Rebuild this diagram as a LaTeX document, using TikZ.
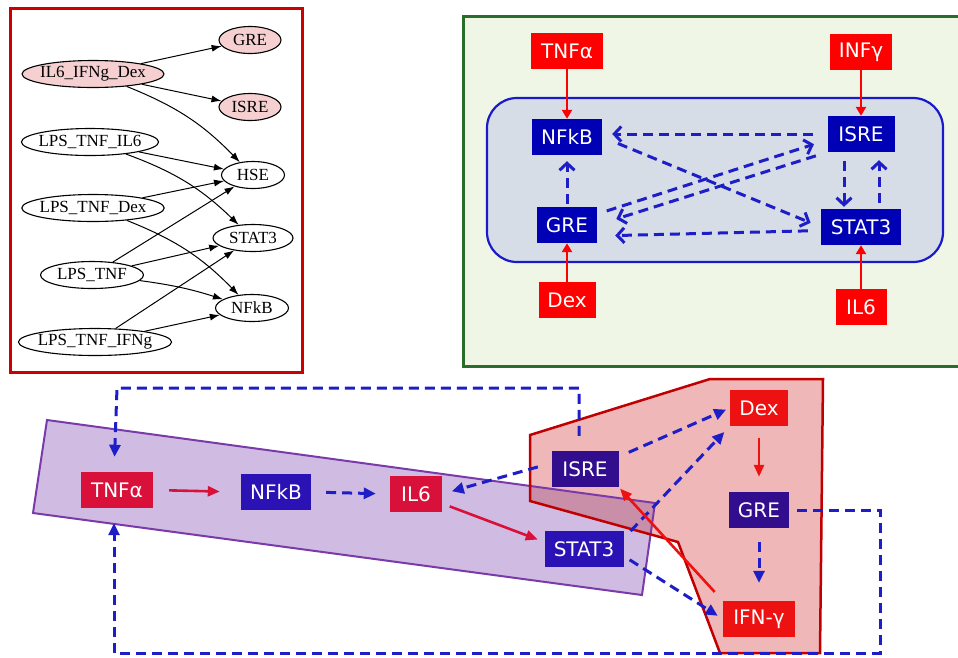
\documentclass[tikz,border=0pt]{standalone}
\usepackage{fontspec}
\usepackage{tikz}
\usetikzlibrary{positioning}
\usetikzlibrary{arrows.meta}
\usetikzlibrary{shapes.geometric}

\newfontfamily\gvfont{Liberation Serif}
\newfontfamily\boxfont{DejaVu Sans}

\definecolor{frameRed}{HTML}{CC0000}
\definecolor{gvPink}{HTML}{F6D0D0}
\definecolor{panelGreen}{HTML}{EFF6E5}
\definecolor{frameGreen}{HTML}{2B6E2B}
\definecolor{cellGray}{HTML}{D6DDE6}
\definecolor{cellBlue}{HTML}{1A1ACC}
\definecolor{boxBlue}{HTML}{0000B4}
\definecolor{dashBlue}{HTML}{1E1EC8}
\definecolor{bandPurple}{HTML}{D0BCE2}
\definecolor{bandLine}{HTML}{7A3AAA}
\definecolor{zoneRed}{HTML}{EFB7B7}
\definecolor{zoneLine}{HTML}{C00000}
\definecolor{overlapCol}{HTML}{C98EA8}
\definecolor{crimson}{HTML}{D8103A}
\definecolor{violetBox}{HTML}{2A12B4}
\definecolor{indigoBox}{HTML}{320E8E}
\definecolor{brightRed}{HTML}{EE1111}

\begin{document}
\begin{tikzpicture}[x=1pt, y=-1pt,
  gv/.style={ellipse, draw, line width=1.1pt, inner ysep=0pt, inner xsep=-3pt, minimum height=27pt,
    font=\gvfont\fontsize{17}{19}\selectfont},
  gvpk/.style={gv, fill=gvPink},
  gvedge/.style={-{Latex[length=10pt,width=7pt]}, line width=1pt},
  box/.style={rectangle, inner sep=0pt, minimum height=36pt, text=white,
    font=\boxfont\fontsize{20}{22}\selectfont},
  bbox/.style={box, fill=boxBlue},
  rbox/.style={box, fill=red},
  act/.style={-{Triangle[length=9pt,width=10pt]}, line width=2.5pt, draw=red},
  inh/.style={-{Straight Barb[length=7pt,width=15pt]}, line width=3pt, draw=dashBlue,
    dash pattern=on 10pt off 6pt},
  actb/.style={-{Triangle[length=12pt,width=10pt]}, line width=2.6pt, draw=crimson},
  inhb/.style={-{Triangle[length=12pt,width=11pt]}, line width=3pt, draw=dashBlue,
    dash pattern=on 10pt off 6pt},
  ]
\useasboundingbox (0,0) rectangle (958,657);

% ---- left: learned graph
\draw[line width=3pt, draw=frameRed] (10,8) rectangle (302,372);

\node[gvpk, minimum width=62pt]  (gGRE)  at (250,40)  {GRE};
\node[gvpk, minimum width=142pt] (gDex)  at (93,74)   {IL6\_IFNg\_Dex};
\node[gvpk, minimum width=62pt]  (gISRE) at (250,107) {ISRE};
\node[gv, minimum width=137pt]   (gIL6)  at (90,142)  {LPS\_TNF\_IL6};
\node[gv, minimum width=63pt]    (gHSE)  at (253,175) {HSE};
\node[gv, minimum width=140pt]   (gTD)   at (93,208)  {LPS\_TNF\_Dex};
\node[gv, minimum width=80pt]    (gSTAT) at (253,238) {STAT3};
\node[gv, minimum width=103pt]   (gLT)   at (92,275)  {LPS\_TNF};
\node[gv, minimum width=73pt]    (gNFkB) at (252,308) {NFkB};
\node[gv, minimum width=153pt]   (gTG)   at (95,342)  {LPS\_TNF\_IFNg};

\draw[gvedge] (gDex) -- (gGRE);
\draw[gvedge] (gDex) -- (gISRE);
\draw[gvedge] (gDex) to[bend left=12] (gHSE);
\draw[gvedge] (gIL6) -- (gHSE);
\draw[gvedge] (gIL6) to[bend left=12] (gSTAT);
\draw[gvedge] (gTD) -- (gHSE);
\draw[gvedge] (gTD) to[bend left=12] (gNFkB);
\draw[gvedge] (gLT) -- (gHSE);
\draw[gvedge] (gLT) -- (gSTAT);
\draw[gvedge] (gLT) to[bend left=5] (gNFkB);
\draw[gvedge] (gTG) -- (gSTAT);
\draw[gvedge] (gTG) -- (gNFkB);

% ---- right: prior network
\draw[line width=3pt, draw=frameGreen, fill=panelGreen] (463,16) rectangle (975,366);
\draw[line width=2.2pt, draw=cellBlue, fill=cellGray, rounded corners=30pt] (487,98) rectangle (943,262);

\node[bbox, minimum width=70pt] (nfkbA) at (567,137) {NFkB};
\node[bbox, minimum width=67pt] (isreA) at (861,134) {ISRE};
\node[bbox, minimum width=60pt] (greA)  at (567,225) {GRE};
\node[bbox, minimum width=80pt] (statA) at (861,227) {STAT3};
\node[rbox, minimum width=72pt] (tnfA)  at (567,51)  {TNFα};
\node[rbox, minimum width=62pt] (infA)  at (861,52)  {INFγ};
\node[rbox, minimum width=57pt] (dexA)  at (567,300) {Dex};
\node[rbox, minimum width=51pt] (il6A)  at (861,307) {IL6};

\draw[act] (tnfA) -- (nfkbA);
\draw[act] (infA) -- (isreA);
\draw[act] (dexA) -- (greA);
\draw[act] (il6A) -- (statA);

\draw[inh, shorten <=14pt, shorten >=10pt] (isreA.west) -- (isreA.west -| nfkbA.east);
\draw[inh, shorten <=3pt, shorten >=6pt] (greA) -- (nfkbA);
\draw[inh, shorten <=17pt, shorten >=11pt] (nfkbA.east) -- (statA.west);
\draw[inh, shorten <=10pt, shorten >=14pt] (greA.20) -- (isreA.190);
\draw[inh, shorten <=12pt, shorten >=20pt] (isreA.south west) -- (greA.east);
\draw[inh, shorten <=13pt, shorten >=18pt] (statA.185) -- (greA.-20);
\draw[inh, shorten <=9pt, shorten >=2pt] ([xshift=-17pt]isreA.south) -- ([xshift=-17pt]statA.north);
\draw[inh, shorten <=6pt, shorten >=8pt] ([xshift=18pt]statA.north) -- ([xshift=18pt]isreA.south);

% ---- bottom: modules
\fill[bandPurple] (47,420) -- (655,503) -- (642,595) -- (33,513) -- cycle;
\fill[zoneRed] (530,435) -- (710,379) -- (823,379) -- (820,653) -- (720,653) -- (678,542) -- (530,501) -- cycle;
\begin{scope}
  \clip (47,420) -- (655,503) -- (642,595) -- (33,513) -- cycle;
  \fill[overlapCol] (530,435) -- (710,379) -- (823,379) -- (820,653) -- (720,653) -- (678,542) -- (530,501) -- cycle;
\end{scope}
\draw[line width=2pt, bandLine] (47,420) -- (655,503) -- (642,595) -- (33,513) -- cycle;
\draw[line width=2.5pt, zoneLine] (530,435) -- (710,379) -- (823,379) -- (820,653) -- (720,653) -- (678,542) -- (530,501) -- cycle;

\node[box, fill=crimson, minimum width=72pt]   (tnfB)  at (117,490) {TNFα};
\node[box, fill=violetBox, minimum width=70pt] (nfkbB) at (276,492) {NFkB};
\node[box, fill=crimson, minimum width=52pt]   (il6B)  at (416,494) {IL6};
\node[box, fill=indigoBox, minimum width=67pt] (isreB) at (585,469) {ISRE};
\node[box, fill=violetBox, minimum width=79pt] (statB) at (584,549) {STAT3};
\node[box, fill=brightRed, minimum width=58pt] (dexB)  at (759,408) {Dex};
\node[box, fill=indigoBox, minimum width=60pt] (greB)  at (759,510) {GRE};
\node[box, fill=brightRed, minimum width=72pt] (ifnB)  at (759,619) {IFN-γ};

\coordinate (loopTop) at (0,388);
\coordinate (loopR) at (880,653);

\draw[actb, shorten <=16pt, shorten >=21pt] (tnfB.east) -- (nfkbB.west);
\draw[inhb, shorten <=15pt, shorten >=14pt] (nfkbB.east) -- (il6B.west);
\draw[inhb, shorten <=14pt, shorten >=10pt] (isreB.170) -- (il6B.east);
\draw[actb, shorten <=8pt, shorten >=7pt] (il6B.-20) -- (statB.170);
\draw[inhb, shorten <=11pt, shorten >=4pt] (isreB.20) -- (dexB.west);
\draw[inhb, shorten <=10pt, shorten >=8pt] (statB.15) -- (dexB.south west);
\draw[actb, draw=brightRed, shorten <=12pt, shorten >=15pt] (dexB) -- (greB);
\draw[inhb, shorten <=14pt, shorten >=18pt] (greB) -- (ifnB);
\draw[actb, draw=brightRed, shorten <=12pt, shorten >=2pt] (ifnB.north west) -- (isreB.south east);
\draw[inhb, shorten <=7pt, shorten >=6pt] (statB.-10) -- (ifnB.west);

% feedback loops to TNFa
\draw[inhb, shorten <=15pt, shorten >=15pt] ([xshift=-6pt]isreB.north) |- (loopTop -| tnfB.north) -- ([xshift=-3pt]tnfB.north);
\draw[inhb, shorten <=8pt, shorten >=15pt] (greB.east) -| (loopR) -| ([xshift=-3pt]tnfB.south);

\end{tikzpicture}
\end{document}
